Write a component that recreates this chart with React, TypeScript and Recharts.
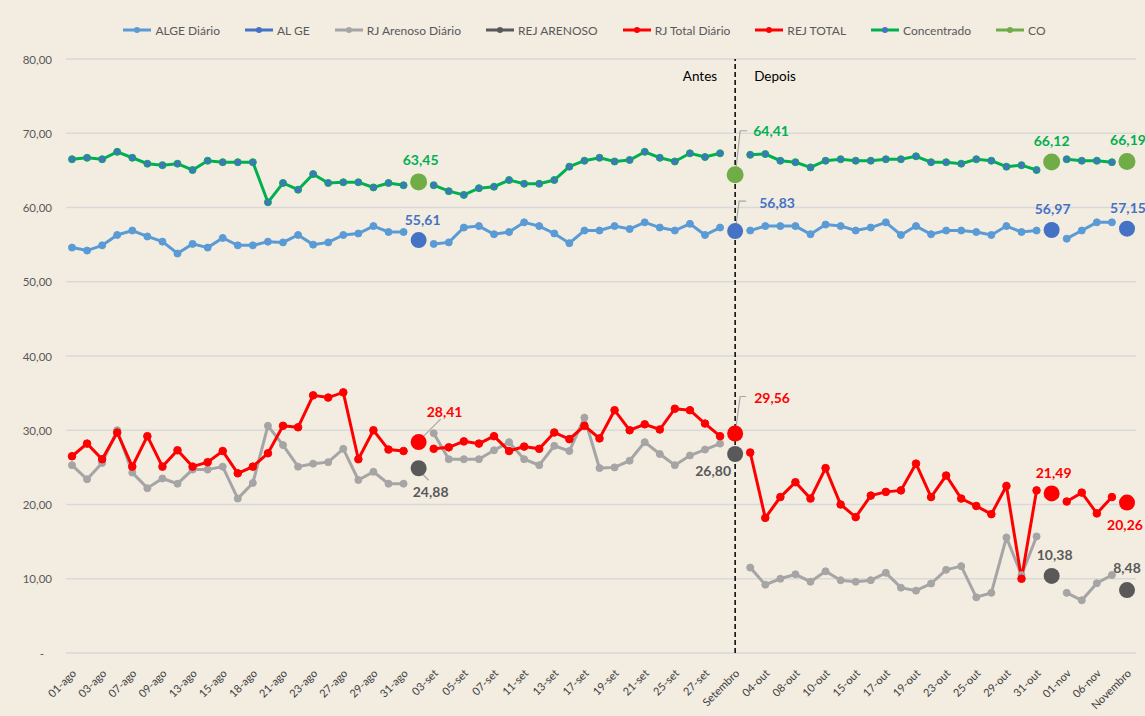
import React from 'react';
import { LineChart, Line, XAxis, YAxis, CartesianGrid, Legend, ReferenceLine } from 'recharts';

const categories = [
  '01-ago', '02-ago', '03-ago', '06-ago', '07-ago', '08-ago', '09-ago', '10-ago', '13-ago', '14-ago', '15-ago', '16-ago',
  '18-ago', '20-ago', '21-ago', '22-ago', '23-ago', '24-ago', '27-ago', '28-ago', '29-ago', '30-ago', '31-ago', 'Agosto',
  '03-set', '04-set', '05-set', '06-set', '07-set', '10-set', '11-set', '12-set', '13-set', '14-set', '17-set', '18-set',
  '19-set', '20-set', '21-set', '24-set', '25-set', '26-set', '27-set', '28-set', 'Setembro',
  '03-out', '04-out', '05-out', '08-out', '09-out', '10-out', '11-out', '15-out', '16-out', '17-out', '18-out', '19-out',
  '22-out', '23-out', '24-out', '25-out', '26-out', '29-out', '30-out', '31-out', 'Outubro',
  '01-nov', '05-nov', '06-nov', '07-nov', 'Novembro',
];

const summaryCategories = ['Agosto', 'Setembro', 'Outubro', 'Novembro'];

const algeDiario = [
  54.6, 54.2, 54.9, 56.3, 56.9, 56.1, 55.4, 53.8, 55.1, 54.6, 55.9, 54.9, 54.9, 55.4, 55.3, 56.3, 55.0, 55.3, 56.3, 56.5, 57.5, 56.7, 56.7, null,
  55.1, 55.3, 57.3, 57.5, 56.4, 56.7, 58.0, 57.5, 56.5, 55.2, 56.9, 56.9, 57.5, 57.1, 58.0, 57.3, 56.9, 57.8, 56.3, 57.3, null,
  56.9, 57.5, 57.5, 57.5, 56.4, 57.7, 57.5, 56.9, 57.3, 58.0, 56.3, 57.5, 56.4, 56.9, 56.9, 56.7, 56.3, 57.5, 56.7, 56.9, null,
  55.8, 56.9, 58.0, 58.0, null,
];

const concentrado = [
  66.5, 66.7, 66.5, 67.5, 66.7, 65.9, 65.7, 65.9, 65.05, 66.3, 66.1, 66.1, 66.1, 60.7, 63.3, 62.4, 64.5, 63.3, 63.4, 63.4, 62.7, 63.3, 63.0, null,
  63.0, 62.2, 61.7, 62.6, 62.8, 63.7, 63.2, 63.2, 63.7, 65.5, 66.3, 66.7, 66.2, 66.4, 67.5, 66.7, 66.2, 67.3, 66.8, 67.3, null,
  67.1, 67.2, 66.3, 66.1, 65.4, 66.3, 66.5, 66.3, 66.3, 66.5, 66.5, 66.9, 66.1, 66.1, 65.9, 66.5, 66.3, 65.5, 65.7, 65.05, null,
  66.5, 66.3, 66.3, 66.1, null,
];

const rjArenosoDiario = [
  25.3, 23.4, 25.6, 30.0, 24.3, 22.2, 23.5, 22.8, 24.7, 24.7, 25.1, 20.8, 22.9, 30.6, 28.0, 25.1, 25.5, 25.7, 27.5, 23.3, 24.4, 22.8, 22.8, null,
  29.6, 26.1, 26.1, 26.1, 27.3, 28.4, 26.1, 25.3, 27.9, 27.2, 31.7, 24.9, 25.0, 25.9, 28.4, 26.8, 25.3, 26.6, 27.4, 28.2, null,
  11.5, 9.2, 10.0, 10.6, 9.6, 11.0, 9.8, 9.6, 9.8, 10.8, 8.8, 8.4, 9.35, 11.2, 11.7, 7.5, 8.1, 15.55, 10.5, 15.7, null,
  8.1, 7.1, 9.4, 10.5, null,
];

const rjTotalDiario = [
  26.5, 28.2, 26.1, 29.7, 25.1, 29.2, 25.1, 27.3, 25.1, 25.7, 27.2, 24.2, 25.1, 26.9, 30.6, 30.4, 34.7, 34.4, 35.1, 26.1, 30.0, 27.4, 27.2, null,
  27.5, 27.7, 28.5, 28.2, 29.2, 27.2, 27.8, 27.5, 29.7, 28.8, 30.6, 28.9, 32.7, 30.0, 30.8, 30.1, 32.9, 32.7, 30.9, 29.2, null,
  27.0, 18.2, 21.0, 23.0, 20.8, 24.9, 20.0, 18.3, 21.2, 21.7, 21.9, 25.5, 21.0, 23.9, 20.8, 19.8, 18.7, 22.5, 10.0, 21.9, null,
  20.4, 21.6, 18.8, 21.0, null,
];

const alGe = [55.61, 56.83, 56.97, 57.15];
const rejArenoso = [24.88, 26.8, 10.38, 8.48];
const rejTotal = [28.41, 29.56, 21.49, 20.26];
const co = [63.45, 64.41, 66.12, 66.19];

const yTicks = [0, 10, 20, 30, 40, 50, 60, 70, 80];

const data = categories.map((label, i) => {
  const s = summaryCategories.indexOf(label);
  return {
    label,
    algeDiario: algeDiario[i],
    alGe: s >= 0 ? alGe[s] : null,
    rjArenosoDiario: rjArenosoDiario[i],
    rejArenoso: s >= 0 ? rejArenoso[s] : null,
    rjTotalDiario: rjTotalDiario[i],
    rejTotal: s >= 0 ? rejTotal[s] : null,
    concentrado: concentrado[i],
    co: s >= 0 ? co[s] : null,
  };
});

// ---- styles ----
const FONT = 'Lato, "Open Sans", "Liberation Sans", sans-serif';
const BG = '#F2ECE1';
const C_ALGE_D = '#5B9BD5';
const C_ALGE = '#4472C4';
const C_ARE_D = '#A5A5A5';
const C_ARE = '#595959';
const C_RJ = '#FF0000';
const C_CONC = '#00B050';
const C_CO = '#70AD47';
const LEADER = '#A6A6A6';

type Placement = { dx: number; dy: number; anchor?: 'start' | 'middle' | 'end'; leader?: number[][] };

const coPlace: Placement[] = [
  { dx: 2, dy: -22 },
  { dx: 18, dy: -44, anchor: 'start', leader: [[1, -7], [5, -44], [12, -44]] },
  { dx: 0, dy: -22 },
  { dx: 1, dy: -22 },
];
const alGePlace: Placement[] = [
  { dx: 4, dy: -21 },
  { dx: 24, dy: -29, anchor: 'start', leader: [[1, -7], [4, -30], [11, -30]] },
  { dx: 1, dy: -21 },
  { dx: 1, dy: -21 },
];
const rejTotalPlace: Placement[] = [
  { dx: 8, dy: -31, anchor: 'start', leader: [[4, -5], [22, -23]] },
  { dx: 19, dy: -36, anchor: 'start', leader: [[1, -7], [5, -37], [11, -37]] },
  { dx: 2, dy: -21 },
  { dx: -2, dy: 22 },
];
const rejArenosoPlace: Placement[] = [
  { dx: 12, dy: 23, leader: [[3, 5], [10, 12]] },
  { dx: -22, dy: 16 },
  { dx: 3, dy: -21 },
  { dx: 0, dy: -23 },
];

const fmt = (v: number) => v.toFixed(2).replace('.', ',');

const makeSummaryDot = (color: string, labelColor: string, placements: Placement[], r: number) => (props: any) => {
  const { cx, cy, value, payload, index } = props;
  if (cx == null || cy == null || value == null || payload == null) return <g key={`e-${index}`} />;
  const k = summaryCategories.indexOf(payload.label);
  const p = placements[k] || { dx: 0, dy: -20 };
  return (
    <g key={`s-${index}`}>
      {p.leader && (
        <polyline
          points={p.leader.map(([a, b]) => `${cx + a},${cy + b}`).join(' ')}
          fill="none"
          stroke={LEADER}
          strokeWidth={1.2}
        />
      )}
      <circle cx={cx} cy={cy} r={r} fill={color} stroke="none" />
      <text
        x={cx + p.dx}
        y={cy + p.dy}
        textAnchor={p.anchor || 'middle'}
        dominantBaseline="central"
        fill={labelColor}
        fontSize={14}
        fontWeight={700}
        fontFamily={FONT}
      >
        {fmt(value)}
      </text>
    </g>
  );
};

const XTick = (props: any) => {
  const { x, y, payload } = props;
  const ax = x + 5;
  const ay = y + 21;
  return (
    <text
      x={ax}
      y={ay}
      transform={`rotate(-45, ${ax}, ${ay})`}
      textAnchor="end"
      fontSize={11}
      fill="#404040"
      fontFamily={FONT}
    >
      {payload.value}
    </text>
  );
};

const YTick = (props: any) => {
  const { x, y, payload } = props;
  const v = payload.value as number;
  return (
    <text
      x={v === 0 ? x - 8 : x}
      y={y}
      textAnchor="end"
      dominantBaseline="central"
      fontSize={11.5}
      fill="#595959"
      fontFamily={FONT}
    >
      {v === 0 ? '-' : fmt(v)}
    </text>
  );
};

const legendItems = [
  { name: 'ALGE Diário', color: C_ALGE_D, dot: C_ALGE_D },
  { name: 'AL GE', color: C_ALGE, dot: C_ALGE },
  { name: 'RJ Arenoso Diário', color: C_ARE_D, dot: C_ARE_D },
  { name: 'REJ ARENOSO', color: C_ARE, dot: C_ARE },
  { name: 'RJ Total Diário', color: C_RJ, dot: C_RJ },
  { name: 'REJ TOTAL', color: C_RJ, dot: C_RJ },
  { name: 'Concentrado', color: C_CONC, dot: C_ALGE },
  { name: 'CO', color: C_CO, dot: C_CO },
];

const renderLegend = () => (
  <div
    style={{
      height: 20,
      display: 'flex',
      alignItems: 'center',
      justifyContent: 'center',
      paddingLeft: 58,
      fontFamily: FONT,
      fontSize: 12,
      color: '#595959',
    }}
  >
    {legendItems.map((it) => (
      <div key={it.name} style={{ display: 'flex', alignItems: 'center', marginRight: 25 }}>
        <svg width={28} height={10} style={{ marginRight: 4 }}>
          <line x1={0} y1={5} x2={28} y2={5} stroke={it.color} strokeWidth={3} />
          <circle cx={14} cy={5} r={3} fill={it.dot} />
        </svg>
        <span>{it.name}</span>
      </div>
    ))}
  </div>
);

const renderBeforeAfter = (props: any) => {
  const vb = props.viewBox || {};
  const x = vb.x ?? 0;
  const y = (vb.y ?? 0) + 17;
  return (
    <g>
      <text x={x - 18} y={y} textAnchor="end" dominantBaseline="central" fontSize={13.5} fill="#000" fontFamily={FONT}>
        Antes
      </text>
      <text x={x + 19} y={y} textAnchor="start" dominantBaseline="central" fontSize={13.5} fill="#000" fontFamily={FONT}>
        Depois
      </text>
    </g>
  );
};

export default function App() {
  return (
    <div style={{ position: 'absolute', left: 0, top: 0, width: 1145, height: 716, background: BG, fontFamily: FONT }}>
      <LineChart width={1145} height={716} data={data} margin={{ top: 39, right: 9, bottom: 5, left: 0 }}>
        <CartesianGrid vertical={false} stroke="#D9D9D9" strokeWidth={1.3} />
        <XAxis
          dataKey="label"
          interval={1}
          tick={<XTick />}
          tickLine={false}
          axisLine={false}
          tickSize={0}
          tickMargin={0}
          height={58}
          padding={{ left: 6, right: 9 }}
        />
        <YAxis
          domain={[0, 80]}
          ticks={yTicks}
          tick={<YTick />}
          tickLine={false}
          axisLine={false}
          tickSize={0}
          tickMargin={14}
          width={66}
        />
        <Legend verticalAlign="top" content={renderLegend} wrapperStyle={{ top: 20 }} />
        <ReferenceLine
          x="Setembro"
          stroke="#000"
          strokeWidth={1.5}
          strokeDasharray="5 3"
          label={renderBeforeAfter}
        />
        <Line
          dataKey="algeDiario"
          name="ALGE Diário"
          stroke={C_ALGE_D}
          strokeWidth={3}
          dot={{ r: 3.5, fill: C_ALGE_D, stroke: C_ALGE_D, strokeWidth: 1 }}
          activeDot={false}
          isAnimationActive={false}
        />
        <Line
          dataKey="alGe"
          name="AL GE"
          stroke="none"
          dot={makeSummaryDot(C_ALGE, C_ALGE, alGePlace, 8)}
          activeDot={false}
          isAnimationActive={false}
        />
        <Line
          dataKey="rjArenosoDiario"
          name="RJ Arenoso Diário"
          stroke={C_ARE_D}
          strokeWidth={3}
          dot={{ r: 3.5, fill: C_ARE_D, stroke: C_ARE_D, strokeWidth: 1 }}
          activeDot={false}
          isAnimationActive={false}
        />
        <Line
          dataKey="rejArenoso"
          name="REJ ARENOSO"
          stroke="none"
          dot={makeSummaryDot(C_ARE, C_ARE, rejArenosoPlace, 8)}
          activeDot={false}
          isAnimationActive={false}
        />
        <Line
          dataKey="rjTotalDiario"
          name="RJ Total Diário"
          stroke={C_RJ}
          strokeWidth={3}
          dot={{ r: 3.8, fill: C_RJ, stroke: C_RJ, strokeWidth: 1 }}
          activeDot={false}
          isAnimationActive={false}
        />
        <Line
          dataKey="rejTotal"
          name="REJ TOTAL"
          stroke="none"
          dot={makeSummaryDot(C_RJ, C_RJ, rejTotalPlace, 8)}
          activeDot={false}
          isAnimationActive={false}
        />
        <Line
          dataKey="concentrado"
          name="Concentrado"
          stroke={C_CONC}
          strokeWidth={3}
          dot={{ r: 3.5, fill: C_ALGE, stroke: C_CONC, strokeWidth: 1 }}
          activeDot={false}
          isAnimationActive={false}
        />
        <Line
          dataKey="co"
          name="CO"
          stroke="none"
          dot={makeSummaryDot(C_CO, C_CONC, coPlace, 8.5)}
          activeDot={false}
          isAnimationActive={false}
        />
      </LineChart>
    </div>
  );
}
